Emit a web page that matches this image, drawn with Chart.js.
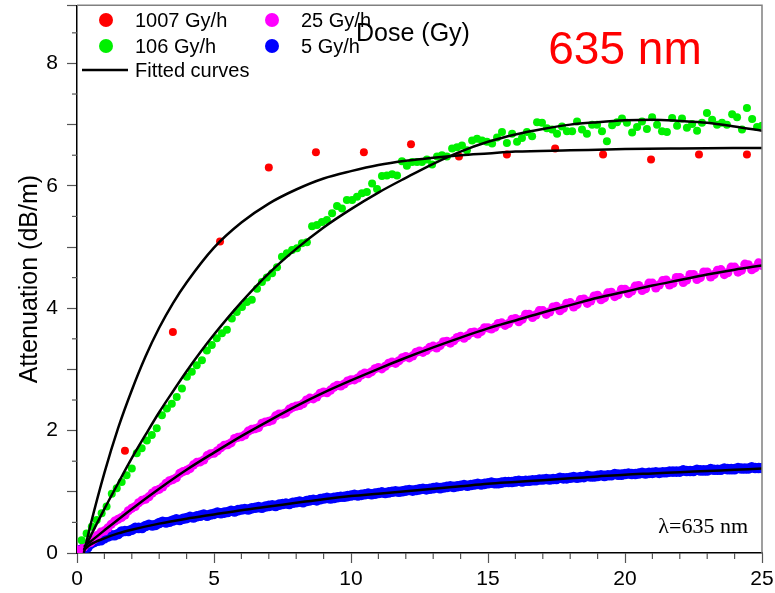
<!DOCTYPE html>
<html lang="en">
<head>
    <meta charset="UTF-8">
    <title>Attenuation vs dose</title>
    <style>
        body {
            margin: 0;
            background: #ffffff;
        }

        .chart-box {
            width: 775px;
            height: 593px;
        }
    </style>
    <script src="https://cdn.jsdelivr.net/npm/chart.js@4.4.1/dist/chart.umd.min.js"></script>
</head>
<body>
    <div class="chart-box">
        <canvas id="chart" width="775" height="593"></canvas>
    </div>
    <script>
        // 1007 Gy/h measurements
        const redDose = [1.75, 3.5, 5.22, 7.0, 8.72, 10.47, 12.19, 13.94, 15.69, 17.45, 19.2, 20.95, 22.7, 24.45];
        const redAtt = [1.67, 3.61, 5.09, 6.30, 6.55, 6.55, 6.68, 6.48, 6.51, 6.61, 6.51, 6.43, 6.51, 6.51];

        // 106 Gy/h measurements
        const greenDose = [
            0.17, 0.35, 0.54, 0.72, 0.90, 1.08, 1.27, 1.45, 1.63, 1.81,
            2.00, 2.18, 2.36, 2.55, 2.73, 2.91, 3.10, 3.28, 3.46, 3.64,
            3.83, 4.01, 4.19, 4.37, 4.56, 4.74, 4.92, 5.10, 5.29, 5.47,
            5.65, 5.83, 6.02, 6.20, 6.38, 6.57, 6.75, 6.93, 7.12, 7.30,
            7.48, 7.66, 7.85, 8.03, 8.21, 8.39, 8.58, 8.76, 8.94, 9.12,
            9.31, 9.49, 9.67, 9.85, 10.04, 10.22, 10.40, 10.58, 10.77, 10.95,
            11.13, 11.31, 11.50, 11.68, 11.86, 12.04, 12.23, 12.41, 12.59, 12.77,
            12.96, 13.14, 13.32, 13.50, 13.69, 13.87, 14.05, 14.23, 14.42, 14.60,
            14.78, 14.96, 15.15, 15.33, 15.51, 15.69, 15.88, 16.06, 16.24, 16.42,
            16.61, 16.79, 16.97, 17.15, 17.34, 17.52, 17.70, 17.88, 18.07, 18.25,
            18.43, 18.61, 18.80, 18.98, 19.16, 19.34, 19.53, 19.71, 19.89, 20.07,
            20.26, 20.44, 20.62, 20.80, 20.99, 21.17, 21.35, 21.53, 21.72, 21.90,
            22.08, 22.26, 22.45, 22.63, 22.81, 22.99, 23.18, 23.36, 23.54, 23.72,
            23.91, 24.09, 24.27, 24.45, 24.64, 24.82, 25.00
        ];
        const greenAtt = [
            0.21, 0.32, 0.43, 0.54, 0.65, 0.76, 0.97, 1.06, 1.16, 1.27,
            1.38, 1.63, 1.71, 1.84, 1.93, 2.04, 2.25, 2.36, 2.44, 2.55,
            2.69, 2.88, 2.96, 3.07, 3.15, 3.31, 3.40, 3.51, 3.59, 3.65,
            3.83, 3.94, 4.02, 4.10, 4.14, 4.32, 4.43, 4.50, 4.57, 4.67,
            4.84, 4.90, 4.95, 4.98, 5.06, 5.08, 5.34, 5.36, 5.41, 5.44,
            5.55, 5.67, 5.63, 5.77, 5.77, 5.82, 5.88, 5.90, 6.04, 5.95,
            6.16, 6.17, 6.19, 6.17, 6.40, 6.33, 6.39, 6.39, 6.39, 6.43,
            6.35, 6.48, 6.50, 6.48, 6.61, 6.63, 6.66, 6.58, 6.74, 6.77,
            6.74, 6.72, 6.69, 6.79, 6.88, 6.70, 6.85, 6.72, 6.78, 6.88,
            6.81, 7.04, 7.03, 6.94, 6.92, 6.85, 6.97, 6.89, 6.89, 7.05,
            6.92, 6.85, 7.00, 7.00, 6.89, 6.73, 6.99, 7.04, 7.10, 7.03,
            6.87, 6.96, 7.05, 6.93, 7.12, 7.00, 6.89, 6.88, 7.11, 6.98,
            7.10, 6.95, 7.01, 6.90, 7.03, 7.19, 7.08, 7.00, 7.03, 7.00,
            7.17, 7.12, 6.92, 7.27, 7.09, 6.96, 6.98
        ];

        // 25 Gy/h and 5 Gy/h share the same dose grids
        const gridDose = [
            0, 0.25, 0.5, 0.75, 1, 1.25, 1.5, 1.75, 2, 2.25, 2.5, 2.75, 3, 3.25, 3.5, 3.75,
            4, 4.25, 4.5, 4.75, 5, 5.25, 5.5, 5.75, 6, 6.25, 6.5, 6.75, 7, 7.25, 7.5, 7.75,
            8, 8.25, 8.5, 8.75, 9, 9.25, 9.5, 9.75, 10, 10.25, 10.5, 10.75, 11, 11.25, 11.5, 11.75,
            12, 12.25, 12.5, 12.75, 13, 13.25, 13.5, 13.75, 14, 14.25, 14.5, 14.75, 15, 15.25, 15.5, 15.75,
            16, 16.25, 16.5, 16.75, 17, 17.25, 17.5, 17.75, 18, 18.25, 18.5, 18.75, 19, 19.25, 19.5, 19.75,
            20, 20.25, 20.5, 20.75, 21, 21.25, 21.5, 21.75, 22, 22.25, 22.5, 22.75, 23, 23.25, 23.5, 23.75,
            24, 24.25, 24.5, 24.75, 25
        ];
        const gridDoseMid = [
            0.125, 0.375, 0.625, 0.875, 1.125, 1.375, 1.625, 1.875, 2.125, 2.375,
            2.625, 2.875, 3.125, 3.375, 3.625, 3.875, 4.125, 4.375, 4.625, 4.875,
            5.125, 5.375, 5.625, 5.875, 6.125, 6.375, 6.625, 6.875, 7.125, 7.375,
            7.625, 7.875, 8.125, 8.375, 8.625, 8.875, 9.125, 9.375, 9.625, 9.875,
            10.125, 10.375, 10.625, 10.875, 11.125, 11.375, 11.625, 11.875, 12.125, 12.375,
            12.625, 12.875, 13.125, 13.375, 13.625, 13.875, 14.125, 14.375, 14.625, 14.875,
            15.125, 15.375, 15.625, 15.875, 16.125, 16.375, 16.625, 16.875, 17.125, 17.375,
            17.625, 17.875, 18.125, 18.375, 18.625, 18.875, 19.125, 19.375, 19.625, 19.875,
            20.125, 20.375, 20.625, 20.875, 21.125, 21.375, 21.625, 21.875, 22.125, 22.375,
            22.625, 22.875, 23.125, 23.375, 23.625, 23.875, 24.125, 24.375, 24.625, 24.875
        ];
        const magentaAtt = [
            0.05, 0.10, 0.17, 0.29, 0.36, 0.47, 0.55, 0.62, 0.73, 0.82, 0.88, 0.98, 1.04, 1.14, 1.20, 1.30,
            1.35, 1.44, 1.49, 1.59, 1.63, 1.72, 1.77, 1.87, 1.90, 1.99, 2.03, 2.12, 2.15, 2.24, 2.27, 2.35,
            2.40, 2.44, 2.53, 2.55, 2.63, 2.66, 2.74, 2.76, 2.83, 2.86, 2.94, 2.96, 3.03, 3.05, 3.12, 3.14,
            3.21, 3.22, 3.30, 3.31, 3.38, 3.39, 3.46, 3.47, 3.54, 3.55, 3.61, 3.62, 3.68, 3.69, 3.76, 3.75,
            3.83, 3.82, 3.90, 3.89, 3.96, 3.94, 4.03, 4.00, 4.09, 4.06, 4.15, 4.12, 4.21, 4.17, 4.26, 4.22,
            4.31, 4.28, 4.37, 4.32, 4.41, 4.38, 4.46, 4.41, 4.50, 4.46, 4.55, 4.50, 4.59, 4.55, 4.63, 4.58,
            4.67, 4.62, 4.71, 4.66, 4.70
        ];
        const magentaAttMid = [
            0.04, 0.15, 0.22, 0.34, 0.41, 0.52, 0.58, 0.69, 0.76, 0.86,
            0.92, 1.02, 1.08, 1.18, 1.23, 1.33, 1.38, 1.48, 1.52, 1.62,
            1.67, 1.76, 1.80, 1.89, 1.93, 2.02, 2.05, 2.14, 2.17, 2.27,
            2.29, 2.38, 2.41, 2.50, 2.52, 2.61, 2.62, 2.71, 2.73, 2.81,
            2.83, 2.91, 2.93, 3.01, 3.01, 3.10, 3.10, 3.19, 3.19, 3.28,
            3.28, 3.36, 3.35, 3.45, 3.43, 3.52, 3.51, 3.60, 3.58, 3.68,
            3.66, 3.75, 3.72, 3.82, 3.78, 3.90, 3.85, 3.96, 3.90, 4.02,
            3.96, 4.08, 4.02, 4.14, 4.08, 4.20, 4.14, 4.25, 4.19, 4.31,
            4.24, 4.36, 4.29, 4.41, 4.33, 4.45, 4.38, 4.50, 4.42, 4.55,
            4.47, 4.59, 4.51, 4.62, 4.55, 4.67, 4.59, 4.72, 4.63, 4.74
        ];
        const blueAtt = [
            0.03, 0.08, 0.15, 0.20, 0.24, 0.29, 0.31, 0.36, 0.38, 0.41, 0.44, 0.45, 0.49, 0.50, 0.53, 0.54,
            0.57, 0.58, 0.61, 0.61, 0.64, 0.65, 0.67, 0.68, 0.71, 0.71, 0.74, 0.74, 0.77, 0.77, 0.80, 0.80,
            0.83, 0.83, 0.86, 0.86, 0.89, 0.89, 0.91, 0.92, 0.94, 0.94, 0.96, 0.96, 0.98, 0.98, 1.00, 1.00,
            1.02, 1.02, 1.04, 1.04, 1.06, 1.06, 1.08, 1.08, 1.10, 1.10, 1.12, 1.12, 1.14, 1.14, 1.15, 1.16,
            1.17, 1.17, 1.18, 1.19, 1.20, 1.20, 1.21, 1.22, 1.23, 1.23, 1.24, 1.25, 1.26, 1.26, 1.27, 1.28,
            1.29, 1.29, 1.30, 1.30, 1.31, 1.31, 1.32, 1.33, 1.33, 1.34, 1.34, 1.35, 1.35, 1.36, 1.36, 1.37,
            1.37, 1.38, 1.38, 1.39, 1.39
        ];
        const blueAttMid = [
            0.05, 0.09, 0.18, 0.21, 0.27, 0.29, 0.35, 0.36, 0.41, 0.41,
            0.46, 0.46, 0.51, 0.51, 0.55, 0.56, 0.59, 0.60, 0.63, 0.63,
            0.66, 0.66, 0.69, 0.70, 0.72, 0.73, 0.75, 0.76, 0.78, 0.79,
            0.81, 0.82, 0.84, 0.85, 0.87, 0.88, 0.90, 0.90, 0.92, 0.93,
            0.95, 0.95, 0.97, 0.97, 0.99, 0.99, 1.01, 1.01, 1.03, 1.03,
            1.05, 1.05, 1.07, 1.07, 1.09, 1.09, 1.11, 1.11, 1.13, 1.13,
            1.15, 1.14, 1.16, 1.16, 1.18, 1.18, 1.19, 1.20, 1.21, 1.21,
            1.23, 1.22, 1.24, 1.24, 1.26, 1.25, 1.27, 1.27, 1.29, 1.28,
            1.30, 1.29, 1.31, 1.31, 1.32, 1.32, 1.33, 1.33, 1.35, 1.34,
            1.36, 1.35, 1.37, 1.36, 1.38, 1.37, 1.39, 1.38, 1.40, 1.39
        ];

        // fitted curves
        const redFitDose = [0.25, 0.5, 1, 1.5, 2, 2.5, 3, 3.5, 4, 5, 6, 7, 8, 9, 10, 11, 12, 13, 14, 15, 16, 18, 20, 22, 25];
        const redFitAtt = [0, 0.47, 1.31, 2.04, 2.66, 3.21, 3.68, 4.08, 4.42, 4.99, 5.40, 5.71, 5.94, 6.12, 6.24, 6.34, 6.41, 6.46, 6.50, 6.53, 6.56, 6.58, 6.60, 6.61, 6.62];
        const greenFitDose = [0.25, 0.5, 1, 1.5, 2, 2.5, 3, 3.5, 4, 4.5, 5, 6, 7, 8, 9, 10, 11, 12, 13, 14, 15, 16, 17, 18, 19, 20, 21, 22, 23, 24, 25];
        const greenFitAtt = [0.05, 0.28, 0.72, 1.14, 1.55, 1.93, 2.30, 2.64, 2.97, 3.28, 3.57, 4.10, 4.57, 4.97, 5.32, 5.62, 5.89, 6.13, 6.36, 6.56, 6.72, 6.84, 6.93, 7.00, 7.04, 7.07, 7.08, 7.06, 7.03, 6.97, 6.90];
        const magentaFitDose = [0.25, 1, 2, 3, 4, 5, 6, 7, 8, 9, 10, 11, 12, 13, 14, 15, 16, 17, 18, 19, 20, 21, 22, 23, 24, 25];
        const magentaFitAtt = [0.10, 0.37, 0.72, 1.05, 1.36, 1.64, 1.91, 2.16, 2.40, 2.62, 2.82, 3.01, 3.19, 3.36, 3.52, 3.67, 3.80, 3.93, 4.05, 4.17, 4.27, 4.37, 4.46, 4.55, 4.63, 4.70];
        const blueFitDose = [0.25, 0.5, 1, 1.5, 2, 3, 4, 5, 6, 7, 8, 9, 10, 11, 12, 13, 14, 15, 16, 17, 18, 19, 20, 21, 22, 23, 24, 25];
        const blueFitAtt = [0.05, 0.14, 0.24, 0.32, 0.38, 0.48, 0.56, 0.63, 0.70, 0.76, 0.82, 0.88, 0.93, 0.97, 1.01, 1.05, 1.09, 1.13, 1.16, 1.19, 1.22, 1.25, 1.28, 1.30, 1.32, 1.34, 1.36, 1.38];

        const series = [
            { label: '1007 Gy/h', color: '#ff0000' },
            { label: '106 Gy/h', color: '#00f000' },
            { label: '25 Gy/h', color: '#ff00ff' },
            { label: '5 Gy/h', color: '#0000ff' }
        ];

        const FONT = 'Arial, "Liberation Sans", sans-serif';

        function pairs(xs, ys) {
            return xs.map((x, i) => ({ x: x, y: ys[i] }));
        }

        function fitLine(xs, ys) {
            return {
                type: 'line',
                data: pairs(xs, ys),
                borderColor: '#000000',
                borderWidth: 2.5,
                pointRadius: 0,
                showLine: true,
                fill: false,
                cubicInterpolationMode: 'monotone',
                order: 0
            };
        }

        function dots(points, color, r) {
            return {
                type: 'scatter',
                data: points,
                backgroundColor: color,
                borderWidth: 0,
                pointRadius: r,
                pointHoverRadius: r,
                order: 1
            };
        }

        // minor ticks, frame, legend and free text
        const decorations = {
            id: 'decorations',
            afterDraw(chart) {
                const ctx = chart.ctx;
                const area = chart.chartArea;
                const xs = chart.scales.x;
                const ys = chart.scales.y;

                ctx.save();
                ctx.strokeStyle = '#555555';
                ctx.lineWidth = 1.2;
                for (let v = 1; v < 25; v++) {
                    if (v % 5 === 0) continue;
                    const px = xs.getPixelForValue(v);
                    ctx.beginPath();
                    ctx.moveTo(px, area.bottom);
                    ctx.lineTo(px, area.bottom + 6);
                    ctx.stroke();
                }
                for (let v = 0.5; v < 8.9; v += 1) {
                    const py = ys.getPixelForValue(v);
                    ctx.beginPath();
                    ctx.moveTo(area.left - 5, py);
                    ctx.lineTo(area.left, py);
                    ctx.stroke();
                }

                // top and right frame
                ctx.strokeStyle = '#808080';
                ctx.lineWidth = 1.5;
                ctx.beginPath();
                ctx.moveTo(area.left, area.top);
                ctx.lineTo(area.right, area.top);
                ctx.lineTo(area.right, area.bottom);
                ctx.stroke();

                // legend
                ctx.font = '20px ' + FONT;
                ctx.textBaseline = 'middle';
                ctx.textAlign = 'left';
                const slots = [[106, 20], [106, 46], [272, 20], [272, 46]];
                series.forEach((s, i) => {
                    const [cx, cy] = slots[i];
                    ctx.fillStyle = s.color;
                    ctx.beginPath();
                    ctx.arc(cx, cy, 7, 0, Math.PI * 2);
                    ctx.fill();
                    ctx.fillStyle = '#000000';
                    ctx.fillText(s.label, cx + 29, cy + 1);
                });
                ctx.strokeStyle = '#000000';
                ctx.lineWidth = 2.5;
                ctx.beginPath();
                ctx.moveTo(82, 70);
                ctx.lineTo(128, 70);
                ctx.stroke();
                ctx.fillText('Fitted curves', 135, 71);

                // axis title placed at the top
                ctx.font = '25px ' + FONT;
                ctx.fillText('Dose (Gy)', 356, 34);

                ctx.fillStyle = '#ff0000';
                ctx.font = '46px ' + FONT;
                ctx.textAlign = 'center';
                ctx.fillText('635 nm', 625, 51);

                ctx.fillStyle = '#000000';
                ctx.font = '22px "Liberation Serif", "Times New Roman", serif';
                ctx.textAlign = 'right';
                ctx.fillText('\u03bb=635 nm', 748, 527);
                ctx.restore();
            }
        };

        new Chart(document.getElementById('chart'), {
            type: 'scatter',
            data: {
                datasets: [
                    fitLine(redFitDose, redFitAtt),
                    fitLine(greenFitDose, greenFitAtt),
                    fitLine(magentaFitDose, magentaFitAtt),
                    fitLine(blueFitDose, blueFitAtt),
                    dots(pairs(redDose, redAtt), series[0].color, 4),
                    dots(pairs(greenDose, greenAtt), series[1].color, 4),
                    dots(pairs(gridDose, magentaAtt).concat(pairs(gridDoseMid, magentaAttMid)), series[2].color, 4.6),
                    dots(pairs(gridDose, blueAtt).concat(pairs(gridDoseMid, blueAttMid)), series[3].color, 5.3)
                ]
            },
            options: {
                responsive: false,
                animation: false,
                layout: {
                    padding: { top: 0, right: 13, left: 0, bottom: 0 }
                },
                plugins: {
                    legend: { display: false },
                    tooltip: { enabled: false }
                },
                scales: {
                    x: {
                        type: 'linear',
                        min: 0,
                        max: 25,
                        afterFit: (scale) => {
                            scale.height = 40;
                            scale.paddingLeft = 0;
                            scale.paddingRight = 0;
                        },
                        border: { color: '#000000', width: 1.5 },
                        grid: {
                            drawOnChartArea: false,
                            tickLength: 10,
                            tickColor: '#555555',
                            tickWidth: 1.2
                        },
                        ticks: {
                            stepSize: 5,
                            padding: 4,
                            color: '#000000',
                            maxRotation: 0,
                            font: { family: FONT, size: 21 }
                        }
                    },
                    y: {
                        min: 0,
                        max: 8.95,
                        afterFit: (scale) => {
                            scale.width = 77;
                            scale.paddingTop = 0;
                            scale.paddingBottom = 0;
                        },
                        border: { color: '#000000', width: 1.5 },
                        grid: {
                            drawOnChartArea: false,
                            tickLength: 10,
                            tickColor: '#555555',
                            tickWidth: 1.2
                        },
                        ticks: {
                            stepSize: 1,
                            padding: 9,
                            color: '#000000',
                            font: { family: FONT, size: 21 },
                            callback: (v) => (v % 2 === 0 && v <= 8 ? v : '')
                        },
                        title: {
                            display: true,
                            text: 'Attenuation (dB/m)',
                            color: '#000000',
                            font: { family: FONT, size: 25 },
                            padding: { top: 15, bottom: 0 }
                        }
                    }
                }
            },
            plugins: [decorations]
        });
    </script>
</body>
</html>
